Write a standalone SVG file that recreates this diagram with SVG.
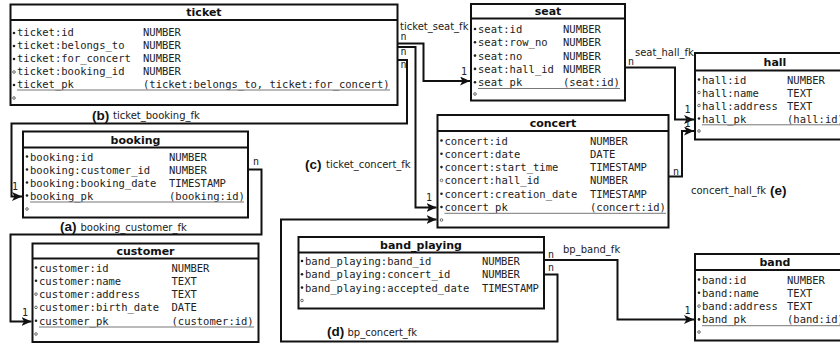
<svg xmlns="http://www.w3.org/2000/svg" width="840" height="345" viewBox="0 0 840 345">
<defs>
<style>
.box{fill:#fff;stroke:#111;stroke-width:2}
.sep{stroke:#111;stroke-width:1.8}
.title{font-family:"DejaVu Sans",sans-serif;font-weight:bold;font-size:11px;fill:#111;text-anchor:middle}
.a{font-family:"DejaVu Sans Mono",monospace;font-size:10.5px;fill:#222}
.ul{stroke:#777;stroke-width:1}
.m{fill:#222}
.o{fill:none;stroke:#444;stroke-width:0.8}
.con{fill:none;stroke:#111;stroke-width:2;marker-end:url(#arr)}
.lbl{font-family:"DejaVu Sans",sans-serif;font-size:10px;fill:#222}
.big{font-family:"Liberation Sans",Arial,sans-serif;font-weight:bold;font-size:13.5px;fill:#111}
.card{font-family:"DejaVu Sans Mono",monospace;font-size:10px;fill:#222}
</style>
<marker id="arr" markerUnits="userSpaceOnUse" markerWidth="11" markerHeight="9" refX="10" refY="4.5" orient="auto">
<path d="M0,0 L10,4.5 L0,9 L2.5,4.5 z" fill="#111"/>
</marker>
</defs>

<g id="connectors">
<path class="con" d="M397,43.5 H423.5 V81 H470"/>
<path class="con" d="M397,47 H415.5 V207.5 H436.5"/>
<path class="con" d="M397,60 H407 V123.5 H11.5 V196.5 H22"/>
<path class="con" d="M248,169.5 H261.5 V234.5 H10.5 V321.5 H31.5"/>
<path class="con" d="M625,67.5 H675 V119.5 H694"/>
<path class="con" d="M668,176.5 H682 V131 H694"/>
<path class="con" d="M544,260 H617.5 V319.5 H694"/>
<path class="con" d="M544,274.5 H557.5 V341.5 H281 V219.5 H436.5"/>
<text class="lbl" x="400" y="30">ticket_seat_fk</text>
<text class="card" x="400.5" y="40">n</text>
<text class="card" x="400.5" y="54.5">n</text>
<text class="card" x="400.5" y="67.5">n</text>
<text class="card" x="461" y="75">1</text>
<text class="card" x="426" y="201">1</text>
<text class="card" x="12" y="190">1</text>
<text class="card" x="253" y="164.5">n</text>
<text class="card" x="22" y="316">1</text>
<text class="card" x="628" y="64.5">n</text>
<text class="lbl" x="635" y="56">seat_hall_fk</text>
<text class="card" x="684.5" y="113">1</text>
<text class="card" x="684.5" y="127">1</text>
<text class="card" x="673" y="174.5">n</text>
<text class="card" x="548" y="257.5">n</text>
<text class="card" x="548" y="270.5">n</text>
<text class="lbl" x="563" y="253">bp_band_fk</text>
<text class="card" x="684.5" y="314">1</text>
<text class="big" x="92" y="119.5">(b)</text>
<text class="lbl" x="113" y="118.5">ticket_booking_fk</text>
<text class="big" x="60" y="231">(a)</text>
<text class="lbl" x="80.5" y="230.5">booking_customer_fk</text>
<text class="big" x="305" y="168.5">(c)</text>
<text class="lbl" x="326" y="168">ticket_concert_fk</text>
<text class="big" x="327" y="336">(d)</text>
<text class="lbl" x="347.5" y="335.5">bp_concert_fk</text>
<text class="lbl" x="691" y="193.5">concert_hall_fk</text>
<text class="big" x="770" y="194.5">(e)</text>
</g>

<g id="ticket">
<rect class="box" x="10.5" y="4.5" width="387" height="100.5"/>
<line class="sep" x1="10.5" y1="20" x2="397.5" y2="20"/>
<text class="title" x="204" y="16">ticket</text>
<circle class="m" cx="14" cy="33" r="1.3"/><text class="a" x="17" y="35.7">ticket:id</text><text class="a" x="143" y="35.7">NUMBER</text>
<circle class="m" cx="14" cy="46" r="1.3"/><text class="a" x="17" y="48.7">ticket:belongs_to</text><text class="a" x="143" y="48.7">NUMBER</text>
<circle class="m" cx="14" cy="59" r="1.3"/><text class="a" x="17" y="61.7">ticket:for_concert</text><text class="a" x="143" y="61.7">NUMBER</text>
<circle class="o" cx="14" cy="72" r="1.3"/><text class="a" x="17" y="74.7">ticket:booking_id</text><text class="a" x="143" y="74.7">NUMBER</text>
<circle class="m" cx="14" cy="85" r="1.3"/><text class="a" x="17" y="87.7">ticket_pk</text><text class="a" x="143" y="87.7">(ticket:belongs_to, ticket:for_concert)</text>
<line class="ul" x1="17" y1="90" x2="390" y2="90"/>
<circle class="o" cx="14" cy="98" r="1.3"/>
</g>

<g id="seat">
<rect class="box" x="471" y="4" width="154" height="96.5"/>
<line class="sep" x1="471" y1="18.5" x2="625" y2="18.5"/>
<text class="title" x="548" y="15">seat</text>
<circle class="m" cx="475" cy="29" r="1.3"/><text class="a" x="478" y="33">seat:id</text><text class="a" x="563" y="33">NUMBER</text>
<circle class="m" cx="475" cy="42.3" r="1.3"/><text class="a" x="478" y="46.3">seat:row_no</text><text class="a" x="563" y="46.3">NUMBER</text>
<circle class="m" cx="475" cy="55.6" r="1.3"/><text class="a" x="478" y="59.6">seat:no</text><text class="a" x="563" y="59.6">NUMBER</text>
<circle class="m" cx="475" cy="68.9" r="1.3"/><text class="a" x="478" y="72.9">seat:hall_id</text><text class="a" x="563" y="72.9">NUMBER</text>
<circle class="m" cx="475" cy="82.2" r="1.3"/><text class="a" x="478" y="86.2">seat_pk</text><text class="a" x="563" y="86.2">(seat:id)</text>
<line class="ul" x1="478" y1="88.5" x2="620" y2="88.5"/>
<circle class="o" cx="475" cy="94" r="1.3"/>
</g>

<g id="hall">
<rect class="box" x="695" y="53" width="160" height="86.5"/>
<line class="sep" x1="695" y1="70.5" x2="855" y2="70.5"/>
<text class="title" x="775" y="65.5">hall</text>
<circle class="m" cx="699" cy="79.5" r="1.3"/><text class="a" x="702" y="83.5">hall:id</text><text class="a" x="787" y="83.5">NUMBER</text>
<circle class="o" cx="699" cy="92.5" r="1.3"/><text class="a" x="702" y="96.5">hall:name</text><text class="a" x="787" y="96.5">TEXT</text>
<circle class="o" cx="699" cy="105.5" r="1.3"/><text class="a" x="702" y="109.5">hall:address</text><text class="a" x="787" y="109.5">TEXT</text>
<circle class="m" cx="699" cy="118.5" r="1.3"/><text class="a" x="702" y="122.5">hall_pk</text><text class="a" x="787" y="122.5">(hall:id)</text>
<line class="ul" x1="702" y1="124.8" x2="845" y2="124.8"/>
<circle class="o" cx="699" cy="131" r="1.3"/>
</g>

<g id="booking">
<rect class="box" x="23" y="131.5" width="225" height="86"/>
<line class="sep" x1="23" y1="147.5" x2="248" y2="147.5"/>
<text class="title" x="135.5" y="143.5">booking</text>
<circle class="m" cx="27" cy="156.5" r="1.3"/><text class="a" x="30" y="160.5">booking:id</text><text class="a" x="169" y="160.5">NUMBER</text>
<circle class="m" cx="27" cy="169.5" r="1.3"/><text class="a" x="30" y="173.5">booking:customer_id</text><text class="a" x="169" y="173.5">NUMBER</text>
<circle class="m" cx="27" cy="182.5" r="1.3"/><text class="a" x="30" y="186.5">booking:booking_date</text><text class="a" x="169" y="186.5">TIMESTAMP</text>
<circle class="m" cx="27" cy="195.5" r="1.3"/><text class="a" x="30" y="199.5">booking_pk</text><text class="a" x="169" y="199.5">(booking:id)</text>
<line class="ul" x1="30" y1="202" x2="244" y2="202"/>
<circle class="o" cx="27" cy="209" r="1.3"/>
</g>

<g id="concert">
<rect class="box" x="437.5" y="115" width="231" height="112.5"/>
<line class="sep" x1="437.5" y1="131" x2="668.5" y2="131"/>
<text class="title" x="553" y="127">concert</text>
<circle class="m" cx="441.5" cy="140.5" r="1.3"/><text class="a" x="444.5" y="144.5">concert:id</text><text class="a" x="590" y="144.5">NUMBER</text>
<circle class="m" cx="441.5" cy="153.8" r="1.3"/><text class="a" x="444.5" y="157.8">concert:date</text><text class="a" x="590" y="157.8">DATE</text>
<circle class="m" cx="441.5" cy="167.1" r="1.3"/><text class="a" x="444.5" y="171.1">concert:start_time</text><text class="a" x="590" y="171.1">TIMESTAMP</text>
<circle class="o" cx="441.5" cy="180.4" r="1.3"/><text class="a" x="444.5" y="184.4">concert:hall_id</text><text class="a" x="590" y="184.4">NUMBER</text>
<circle class="m" cx="441.5" cy="193.7" r="1.3"/><text class="a" x="444.5" y="197.7">concert:creation_date</text><text class="a" x="590" y="197.7">TIMESTAMP</text>
<circle class="m" cx="441.5" cy="207" r="1.3"/><text class="a" x="444.5" y="211">concert_pk</text><text class="a" x="590" y="211">(concert:id)</text>
<line class="ul" x1="444.5" y1="213.3" x2="666" y2="213.3"/>
<circle class="o" cx="441.5" cy="220" r="1.3"/>
</g>

<g id="customer">
<rect class="box" x="32.5" y="243.5" width="226" height="98.5"/>
<line class="sep" x1="32.5" y1="258.5" x2="258.5" y2="258.5"/>
<text class="title" x="145.5" y="255">customer</text>
<circle class="m" cx="36" cy="267.5" r="1.3"/><text class="a" x="39" y="271.5">customer:id</text><text class="a" x="171.5" y="271.5">NUMBER</text>
<circle class="m" cx="36" cy="280.8" r="1.3"/><text class="a" x="39" y="284.8">customer:name</text><text class="a" x="171.5" y="284.8">TEXT</text>
<circle class="o" cx="36" cy="294.1" r="1.3"/><text class="a" x="39" y="298.1">customer:address</text><text class="a" x="171.5" y="298.1">TEXT</text>
<circle class="o" cx="36" cy="307.4" r="1.3"/><text class="a" x="39" y="311.4">customer:birth_date</text><text class="a" x="171.5" y="311.4">DATE</text>
<circle class="m" cx="36" cy="320.7" r="1.3"/><text class="a" x="39" y="324.7">customer_pk</text><text class="a" x="171.5" y="324.7">(customer:id)</text>
<line class="ul" x1="39" y1="327" x2="254" y2="327"/>
<circle class="o" cx="36" cy="334" r="1.3"/>
</g>

<g id="band_playing">
<rect class="box" x="298.5" y="237" width="245.5" height="71.5"/>
<line class="sep" x1="298.5" y1="252.5" x2="544" y2="252.5"/>
<text class="title" x="421" y="249">band_playing</text>
<circle class="m" cx="302" cy="261" r="1.3"/><text class="a" x="305" y="265">band_playing:band_id</text><text class="a" x="482" y="265">NUMBER</text>
<circle class="m" cx="302" cy="274.3" r="1.3"/><text class="a" x="305" y="278.3">band_playing:concert_id</text><text class="a" x="482" y="278.3">NUMBER</text>
<circle class="m" cx="302" cy="287.6" r="1.3"/><text class="a" x="305" y="291.6">band_playing:accepted_date</text><text class="a" x="482" y="291.6">TIMESTAMP</text>
<circle class="o" cx="302" cy="300.5" r="1.3"/>
</g>

<g id="band">
<rect class="box" x="695" y="254" width="160" height="86.5"/>
<line class="sep" x1="695" y1="270" x2="855" y2="270"/>
<text class="title" x="775" y="266">band</text>
<circle class="m" cx="699" cy="279.5" r="1.3"/><text class="a" x="702" y="283.5">band:id</text><text class="a" x="787" y="283.5">NUMBER</text>
<circle class="m" cx="699" cy="292.8" r="1.3"/><text class="a" x="702" y="296.8">band:name</text><text class="a" x="787" y="296.8">TEXT</text>
<circle class="o" cx="699" cy="306.1" r="1.3"/><text class="a" x="702" y="310.1">band:address</text><text class="a" x="787" y="310.1">TEXT</text>
<circle class="m" cx="699" cy="319.4" r="1.3"/><text class="a" x="702" y="323.4">band_pk</text><text class="a" x="787" y="323.4">(band:id)</text>
<line class="ul" x1="702" y1="325.7" x2="845" y2="325.7"/>
<circle class="o" cx="699" cy="332" r="1.3"/>
</g>
</svg>
